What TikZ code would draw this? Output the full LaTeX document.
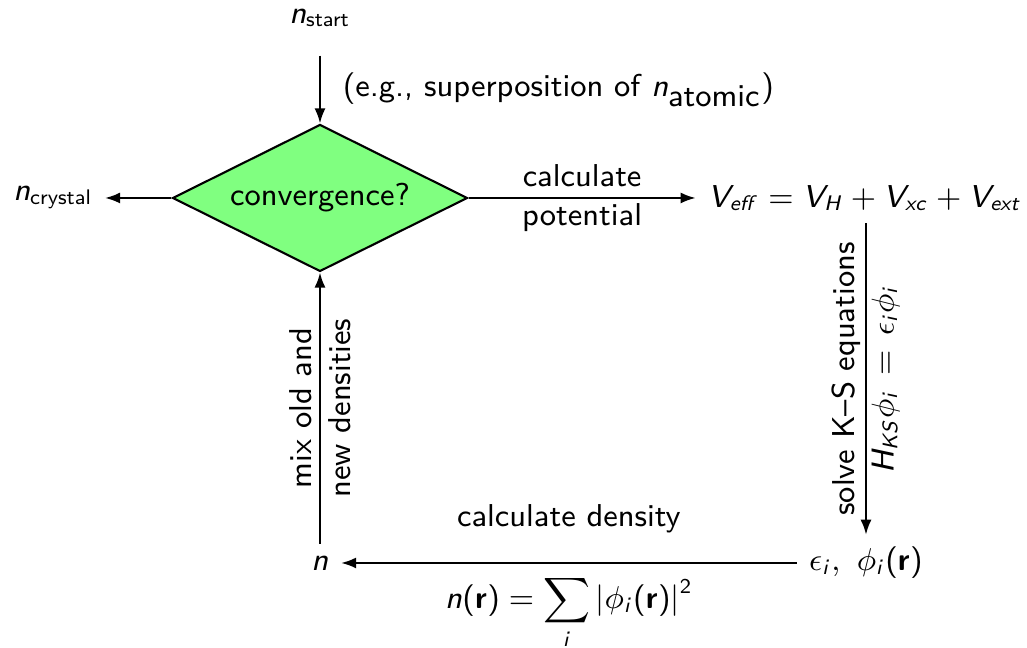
\documentclass[tikz,border=0pt]{standalone}
\usepackage{amsmath}
\renewcommand{\familydefault}{\sfdefault}
\usetikzlibrary{positioning, arrows.meta, shapes.geometric}
% sans serif math letters
\DeclareSymbolFont{sfletters}{OT1}{cmss}{m}{sl}
\DeclareSymbolFont{operators}{OT1}{cmss}{m}{n}
\DeclareMathAlphabet{\mathbf}{OT1}{cmss}{bx}{n}
\makeatletter
\@for\ltr:=a,b,c,d,e,f,g,h,i,j,k,l,m,n,o,p,q,r,s,t,u,v,w,x,y,z,A,B,C,D,E,F,G,H,I,J,K,L,M,N,O,P,Q,R,S,T,U,V,W,X,Y,Z\do{%
  \edef\next{\noexpand\DeclareMathSymbol{\ltr}{\noexpand\mathalpha}{sfletters}{`\ltr}}\next}
\makeatother

\begin{document}
\begin{tikzpicture}[font={\fontsize{9}{11}\selectfont}, >={Latex[length=1.5mm,width=1.1mm]}]
		\useasboundingbox (0,0) rectangle (10.27,6.48);
		% Start density and test
		\node (start) at (3.20,6.30) [inner sep=0pt] {$n_{\text{start}}$};
		\node (conv) at (3.20,4.50) [draw, semithick, diamond, aspect=2, fill=green!50, minimum width=2.95cm, minimum height=1.47cm, inner sep=0pt] {convergence?};
		\draw[->, semithick] ([yshift=-0.28cm]start.south) -- (conv.north) node[midway, right=0.1cm] {(e.g., superposition of $n_{\mbox{atomic}}$)};
		\node (cryst) at (0.53,4.50) {$n_{\text{crystal}}$};
		\draw[->, semithick] (conv.west) -- (cryst.east);

		% Potential
		\node (veff) at (8.65,4.50) {$V_{eff} = V_H + V_{xc} + V_{ext}$};
		\draw[->, semithick] (conv.east) -- (veff.west) node[midway, align=center] {calculate\\potential};

		% Kohn-Sham step
		\node (eps) at (8.66,0.85) {$\epsilon_i,\ \phi_i(\mathbf{r})$};
		\draw[->, semithick] (veff.south -| eps.north) -- (eps.north) node[midway, rotate=90, align=center] {solve K--S equations\\$H_{KS}\phi_i\, =\, \epsilon_i\phi_i$};

		% New density
		\node (dens) at (3.20,0.85) {$n$};
		\draw[->, semithick] (eps.west) -- (dens.east)
			node[midway, above=0.17cm] {calculate density}
			node[midway, below=0cm] {$\displaystyle n(\mathbf{r}) = \sum_i \left|\phi_i(\mathbf{r})\right|^2$};

		% Mixing
		\draw[->, semithick] (dens.north) -- (conv.south) node[midway, rotate=90, align=center] {mix old and\\new densities};
	\end{tikzpicture}
\end{document}
